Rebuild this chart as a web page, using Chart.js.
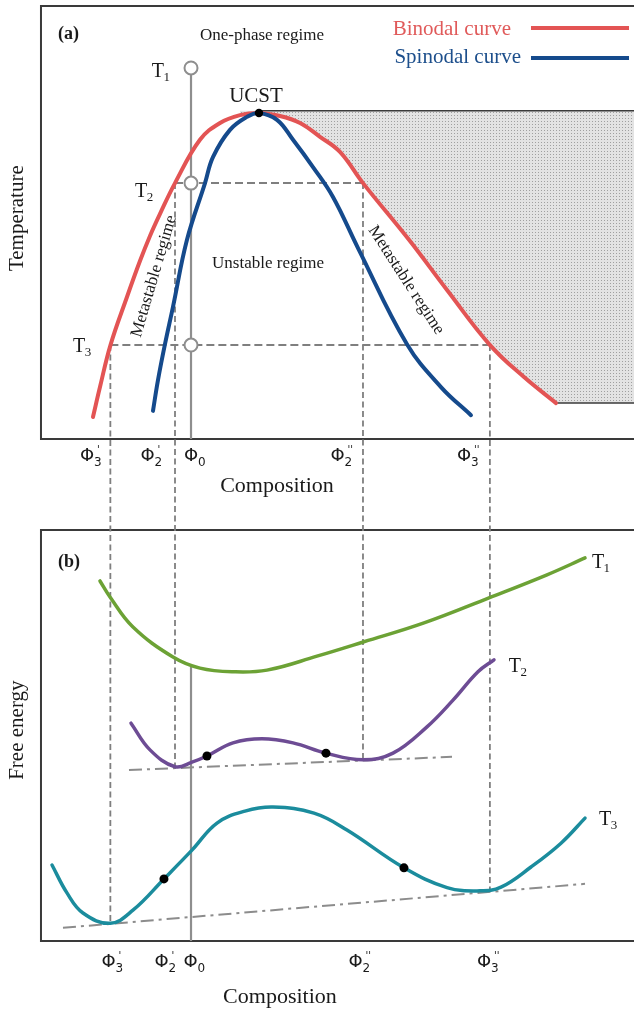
<!DOCTYPE html>
<html><head><meta charset="utf-8">
<script src="https://cdn.jsdelivr.net/npm/chart.js@4.4.1/dist/chart.umd.min.js"></script>
<style>html,body{margin:0;padding:0;background:#fff;}canvas{display:block}</style>
</head><body>
<canvas id="c" width="634" height="1010"></canvas>
<script>
// ---- characteristic compositions and temperatures ----
const phi3p = 0.117, phi2p = 0.226, phi0 = 0.253, phi2pp = 0.543, phi3pp = 0.757;
const phiC = 0.3676, Tc = 75.3;
const T1 = 85.7, T2 = 59.1, T3 = 21.7;
const shadeTopT = 75.8, shadeBaseT = 8.3, shadeStartPhi = 0.8685;

// ---- (a) phase diagram ----
const binodalPhi = [0.0877,0.0995,0.1172,0.1450,0.1669,0.1838,0.2007,0.2260,0.2681,0.3019,0.3356,0.3676,0.4030,0.4368,0.4705,0.5042,0.5430,0.6206,0.6847,0.7572,0.8145,0.8685];
const binodalT   = [5.1,12.0,21.7,32.8,41.1,46.9,52.0,59.1,69.1,73.0,74.8,75.3,74.6,73.0,69.8,66.3,59.1,46.0,34.4,21.7,14.3,8.3];
const spinodalPhi = [0.1889,0.1973,0.2091,0.2226,0.2462,0.2766,0.2900,0.3187,0.3474,0.3676,0.3980,0.4250,0.4587,0.4924,0.5346,0.6172,0.6745,0.7251];
const spinodalT   = [6.5,13.6,21.9,30.5,46.0,59.1,65.1,71.4,74.4,75.3,73.7,69.1,62.8,55.9,44.1,21.9,12.0,5.5];

// ---- (b) free energy curves ----
const g1Phi = [0.0995,0.1164,0.1551,0.2226,0.2681,0.3238,0.3811,0.4654,0.5447,0.6459,0.7555,0.8533,0.9174];
const g1G   = [87.6,83.7,76.4,69.1,66.4,65.5,65.9,69.3,72.8,77.4,83.5,89.1,93.2];
const g2Phi = [0.1518,0.1838,0.2260,0.2546,0.2799,0.3238,0.3727,0.4250,0.4806,0.5430,0.5936,0.6509,0.6948,0.7369,0.7639];
const g2G   = [53.0,46.5,42.4,43.5,45.0,48.2,49.2,48.2,45.7,44.1,45.7,52.1,58.6,65.5,68.4];
const g3Phi = [0.0186,0.0438,0.0708,0.1170,0.1551,0.2074,0.2546,0.2968,0.3440,0.3912,0.4604,0.5160,0.6121,0.6847,0.7403,0.7757,0.8263,0.8769,0.9174];
const g3G   = [18.5,11.7,6.8,4.3,7.5,15.1,22.1,28.7,31.6,32.6,31.1,27.0,17.8,13.0,12.2,13.1,18.0,23.8,29.9];
const tan2Phi = [0.1484,0.6931], tan2G = [41.6,44.8];
const tan3Phi = [0.0371,0.9174], tan3G = [3.2,13.9];
const infl2Phi = [0.2799,0.4806], infl2G = [45.0,45.7];
const infl3Phi = [0.2074,0.6121], infl3G = [15.1,17.8];
const g1AtPhi0 = 67.2;
const tangentG = {p3p:4.3, p2p:42.4, p2pp:44.1, p3pp:12.4};

// ---- scale ranges (frames are 0..1 in composition and 0..100 in T / G) ----
const X_MIN = -0.0691, X_MAX = 1.0;
const T_MIN = -131.87, T_MAX = 101.39;
const G_MIN = -16.79, G_MAX = 228.95;
const tToG = t => G_MIN + (t - T_MIN) / (T_MAX - T_MIN) * (G_MAX - G_MIN);

const pts = (xs, ys) => xs.map((x, i) => ({x, y: ys[i]}));

const RED = '#e35454', BLUE = '#154a8c', GREEN = '#6ca235', PURPLE = '#6d4c94', TEAL = '#1b8c9d';
const GREY = '#8e8e8e', DASH = '#7f7f7f', DASHDOT = '#8c8c8c';

// shading pattern
const pc = document.createElement('canvas'); pc.width = 3; pc.height = 3;
const pcx = pc.getContext('2d');
pcx.fillStyle = '#e3e3e3'; pcx.fillRect(0,0,3,3);
pcx.fillStyle = '#a0a0a0'; pcx.fillRect(1,1,1,1);
const pattern = document.getElementById('c').getContext('2d').createPattern(pc, 'repeat');

const curve = (data, color, w, axis, order) => ({data, borderColor: color, borderWidth: w, yAxisID: axis,
  pointRadius: 0, tension: 0.4, fill: false, order, borderCapStyle: 'round'});
const straight = (data, color, w, axis, dash, order) => ({data, borderColor: color, borderWidth: w, yAxisID: axis,
  borderDash: dash || [], pointRadius: 0, tension: 0, fill: false, order, borderCapStyle: 'butt'});
const dots = (data, axis, r, bg, border, bw, order) => ({data, yAxisID: axis, showLine: false, pointRadius: r,
  pointBackgroundColor: bg, pointBorderColor: border, pointBorderWidth: bw, order});

const peakIdx = binodalPhi.indexOf(phiC);
const datasets = [
  // shaded two-phase region (follows the binodal right branch)
  Object.assign(curve(pts(binodalPhi.slice(peakIdx - 1), binodalT.slice(peakIdx - 1)), 'rgba(0,0,0,0)', 0, 'yT', 30),
    {fill: {value: shadeTopT}, backgroundColor: pattern}),
  Object.assign(straight(pts([shadeStartPhi, X_MAX], [shadeBaseT, shadeBaseT]), '#3a3a3a', 1.5, 'yT', [], 29),
    {fill: {value: shadeTopT}, backgroundColor: pattern}),
  straight(pts([phiC, X_MAX], [shadeTopT, shadeTopT]), '#3a3a3a', 1.5, 'yT', [], 28),
  // guide lines panel (a)
  straight(pts([phi0, phi0], [T1, 0]), GREY, 2.2, 'yT', [], 25),
  straight(pts([phi2p, phi2pp], [T2, T2]), DASH, 2, 'yT', [8,4], 24),
  straight(pts([phi3p, phi3pp], [T3, T3]), DASH, 2, 'yT', [8,4], 24),
  // connectors between panels
  straight(pts([phi3p, phi3p], [tToG(T3), tangentG.p3p]), DASH, 1.8, 'yG', [6,3.5], 23),
  straight(pts([phi2p, phi2p], [tToG(T2), tangentG.p2p]), DASH, 1.8, 'yG', [6,3.5], 23),
  straight(pts([phi2pp, phi2pp], [tToG(T2), tangentG.p2pp]), DASH, 1.8, 'yG', [6,3.5], 23),
  straight(pts([phi3pp, phi3pp], [tToG(T3), tangentG.p3pp]), DASH, 1.8, 'yG', [6,3.5], 23),
  straight(pts([phi0, phi0], [g1AtPhi0, 0]), GREY, 2.2, 'yG', [], 22),
  // tangent lines
  straight(pts(tan2Phi, tan2G), DASHDOT, 2, 'yG', [13,5,3,5], 21),
  straight(pts(tan3Phi, tan3G), DASHDOT, 2, 'yG', [13,5,3,5], 21),
  // phase curves
  curve(pts(binodalPhi, binodalT), RED, 4, 'yT', 10),
  curve(pts(spinodalPhi, spinodalT), BLUE, 4, 'yT', 9),
  // free energy curves
  curve(pts(g1Phi, g1G), GREEN, 3.5, 'yG', 8),
  curve(pts(g2Phi, g2G), PURPLE, 3.5, 'yG', 8),
  curve(pts(g3Phi, g3G), TEAL, 3.5, 'yG', 8),
  // markers
  dots(pts([phi0, phi0, phi0], [T1, T2, T3]), 'yT', 6.5, '#ffffff', GREY, 2, 2),
  dots(pts([phiC], [Tc]), 'yT', 4.2, '#000', '#000', 0, 1),
  dots(pts(infl2Phi, infl2G), 'yG', 4.5, '#000', '#000', 0, 1),
  dots(pts(infl3Phi, infl3G), 'yG', 4.5, '#000', '#000', 0, 1),
];

const SERIF = '"Liberation Serif","Times New Roman",serif';
const SANS = '"DejaVu Sans",sans-serif';

const textsA = [
  {s:'(a)', x:0.0287, y:93.5, font:'bold 18px '+SERIF, align:'left'},
  {s:'One-phase regime', x:0.3727, y:93.1, font:'17px '+SERIF},
  {s:'UCST', x:0.3626, y:79.2, font:'21px '+SERIF},
  {s:'Unstable regime', x:0.3828, y:40.6, font:'17px '+SERIF},
  {s:'Metastable regime', x:0.1906, y:37.6, font:'17px '+SERIF, rot:-73.5},
  {s:'Metastable regime', x:0.6155, y:36.7, font:'17px '+SERIF, rot:57},
  {s:'Temperature', x:-0.0388, y:51.0, font:'21px '+SERIF, rot:-90},
  {s:'Composition', x:0.398, y:-11.0, font:'22px '+SERIF},
];
const textsB = [
  {s:'(b)', x:0.0287, y:92.2, font:'bold 18px '+SERIF, align:'left'},
  {s:'Free energy', x:-0.0388, y:51.3, font:'21px '+SERIF, rot:-90},
  {s:'Composition', x:0.403, y:-13.6, font:'22px '+SERIF},
];
const tLabelsA = [{sub:'1', x:0.187, y:83.6}, {sub:'2', x:0.1585, y:55.9}, {sub:'3', x:0.054, y:20.1}];
const tLabelsB = [{sub:'1', x:0.929, y:90.75}, {sub:'2', x:0.789, y:65.45}, {sub:'3', x:0.941, y:28.22}];
const phiLabelsA = [{x:0.0776, sub:'3', pr:"'"}, {x:0.1796, sub:'2', pr:"'"}, {x:0.2530, sub:'0', pr:''}, {x:0.500, sub:'2', pr:"''"}, {x:0.7133, sub:'3', pr:"''"}];
const phiLabelsB = [{x:0.1138, sub:'3', pr:"'"}, {x:0.2032, sub:'2', pr:"'"}, {x:0.2521, sub:'0', pr:''}, {x:0.5304, sub:'2', pr:"''"}, {x:0.7470, sub:'3', pr:"''"}];
const phiLabelYA = -3.9, phiLabelYB = -5.1;
const legendItems = [
  {s:'Binodal curve', color:RED, textColor:'#e05a5a', textRight:0.7926, y:93.3, lineY:94.9},
  {s:'Spinodal curve', color:BLUE, textColor:'#1d4f8c', textRight:0.8094, y:86.8, lineY:88.0},
];
const legendLine = [0.8263, 0.9916];

const decor = {
  id: 'decor',
  beforeDatasetsDraw(chart) {
    const {ctx, scales} = chart; const X = scales.x;
    ctx.save(); ctx.strokeStyle = '#3a3a3a'; ctx.lineWidth = 2;
    for (const sc of [scales.yT, scales.yG]) {
      ctx.beginPath();
      ctx.moveTo(X.getPixelForValue(1) + 2, sc.getPixelForValue(100));
      ctx.lineTo(X.getPixelForValue(0), sc.getPixelForValue(100));
      ctx.lineTo(X.getPixelForValue(0), sc.getPixelForValue(0));
      ctx.lineTo(X.getPixelForValue(1) + 2, sc.getPixelForValue(0));
      ctx.stroke();
    }
    ctx.restore();
  },
  afterDatasetsDraw(chart) {
    const {ctx, scales} = chart; const X = scales.x;
    const put = (list, sc) => list.forEach(t => {
      ctx.save();
      ctx.font = t.font; ctx.fillStyle = '#1a1a1a';
      ctx.textAlign = t.align || 'center'; ctx.textBaseline = 'middle';
      ctx.translate(X.getPixelForValue(t.x), sc.getPixelForValue(t.y));
      if (t.rot) ctx.rotate(t.rot * Math.PI / 180);
      ctx.fillText(t.s, 0, 0);
      ctx.restore();
    });
    put(textsA, scales.yT); put(textsB, scales.yG);
    const tl = (list, sc) => list.forEach(t => {
      const px = X.getPixelForValue(t.x), py = sc.getPixelForValue(t.y);
      ctx.save(); ctx.fillStyle = '#1a1a1a'; ctx.textBaseline = 'alphabetic'; ctx.textAlign = 'left';
      ctx.font = '20px ' + SERIF; ctx.fillText('T', px, py);
      const w = ctx.measureText('T').width;
      ctx.font = '13px ' + SERIF; ctx.fillText(t.sub, px + w - 0.5, py + 4);
      ctx.restore();
    });
    tl(tLabelsA, scales.yT); tl(tLabelsB, scales.yG);
    const pl = (list, sc, y) => list.forEach(t => {
      const px = X.getPixelForValue(t.x), py = sc.getPixelForValue(y);
      ctx.save(); ctx.fillStyle = '#1a1a1a'; ctx.textAlign = 'center'; ctx.textBaseline = 'middle';
      ctx.font = '18px ' + SANS; ctx.fillText('\u03A6', px, py);
      const w = ctx.measureText('\u03A6').width;
      ctx.textAlign = 'left'; ctx.textBaseline = 'alphabetic';
      ctx.font = '12px ' + SANS; ctx.fillText(t.sub, px + w / 2, py + 10);
      if (t.pr) { ctx.font = '10px ' + SANS; ctx.fillText(t.pr, px + w / 2 + 3, py - 3); }
      ctx.restore();
    });
    pl(phiLabelsA, scales.yT, phiLabelYA); pl(phiLabelsB, scales.yG, phiLabelYB);
    legendItems.forEach(l => {
      ctx.save();
      ctx.font = '21px ' + SERIF; ctx.fillStyle = l.textColor; ctx.textAlign = 'right'; ctx.textBaseline = 'alphabetic';
      ctx.fillText(l.s, X.getPixelForValue(l.textRight), scales.yT.getPixelForValue(l.y));
      ctx.strokeStyle = l.color; ctx.lineWidth = 4;
      ctx.beginPath();
      ctx.moveTo(X.getPixelForValue(legendLine[0]), scales.yT.getPixelForValue(l.lineY));
      ctx.lineTo(X.getPixelForValue(legendLine[1]), scales.yT.getPixelForValue(l.lineY));
      ctx.stroke();
      ctx.restore();
    });
  }
};

new Chart(document.getElementById('c'), {
  type: 'line',
  data: {datasets},
  options: {
    responsive: false, animation: false, events: [],
    layout: {padding: 0, autoPadding: false},
    plugins: {legend: {display: false}, tooltip: {enabled: false}},
    scales: {
      x: {type: 'linear', min: X_MIN, max: X_MAX, display: false},
      yT: {type: 'linear', position: 'left', min: T_MIN, max: T_MAX, display: false},
      yG: {type: 'linear', position: 'left', min: G_MIN, max: G_MAX, display: false},
    }
  },
  plugins: [decor]
});
</script>
</body></html>
